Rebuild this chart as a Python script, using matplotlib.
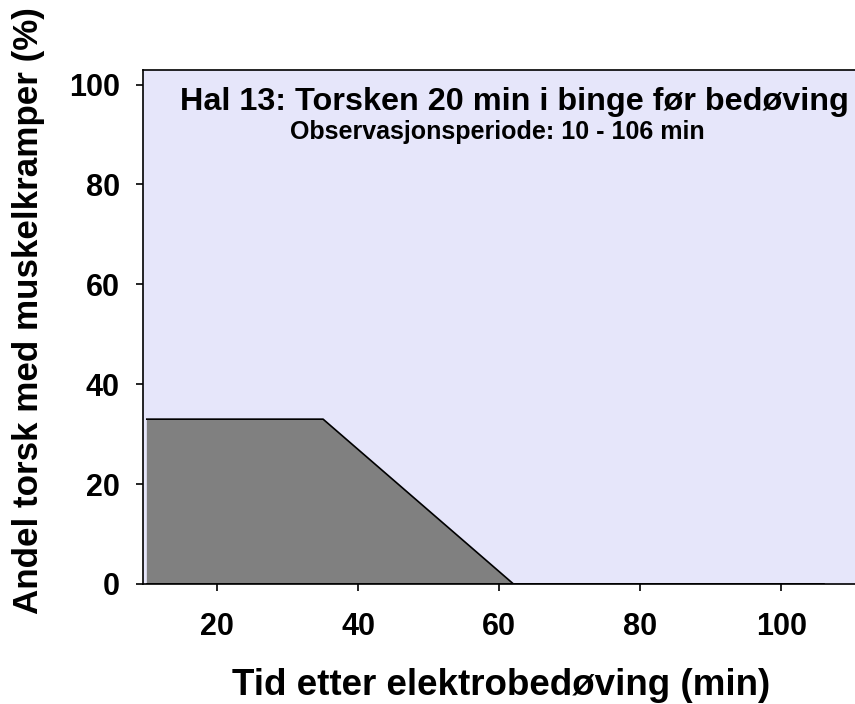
import matplotlib
matplotlib.use("Agg")
import matplotlib.pyplot as plt

x = [10, 35, 62, 106]
y = [33, 33, 0, 0]
xticks = [20, 40, 60, 80, 100]
yticks = [0, 20, 40, 60, 80, 100]
title = "Hal 13: Torsken 20 min i binge før bedøving"
subtitle = "Observasjonsperiode: 10 - 106 min"
xlabel = "Tid etter elektrobedøving (min)"
ylabel = "Andel torsk med muskelkramper (%)"

plt.rcParams['font.family'] = ['Liberation Sans', 'DejaVu Sans']
plt.rcParams['font.weight'] = 'bold'

fig = plt.figure(figsize=(8.55, 7.04), dpi=100)
ax = fig.add_axes([0.1676, 0.1705, 0.837, 0.730])
ax.set_facecolor('#E6E6FA')
ax.fill_between(x, y, 0, facecolor='#808080', edgecolor='none')
ax.plot(x, y, color='black', lw=1.2)
ax.plot([x[0], x[-1]], [0, 0], color='black', lw=1.2)
ax.set_xlim(9.5, 111)
ax.set_ylim(0, 102.9)
ax.set_xticks(xticks)
ax.set_yticks(yticks)
ax.tick_params(labelsize=22, length=5, width=1.2)
ax.tick_params(axis='x', pad=15)
ax.tick_params(axis='y', pad=12)
for lab in ax.get_xticklabels() + ax.get_yticklabels():
    lab.set_fontweight('bold')
ax.spines['right'].set_visible(False)
for s in ['left', 'bottom', 'top']:
    ax.spines[s].set_linewidth(1.2)
ax.text(0.518, 0.938, title, transform=ax.transAxes, ha='center', va='center',
        fontsize=23.3, fontweight='bold')
ax.text(0.494, 0.880, subtitle, transform=ax.transAxes, ha='center', va='center',
        fontsize=18, fontweight='bold')
fig.text(501/855, 1 - 695/704, xlabel, ha='center', va='baseline', fontsize=26.5, fontweight='bold')
fig.text(29/855, 1 - 311/704, ylabel, ha='center', va='center', rotation=90, fontsize=25.2, fontweight='bold')
fig.savefig('out.png', dpi=100)
